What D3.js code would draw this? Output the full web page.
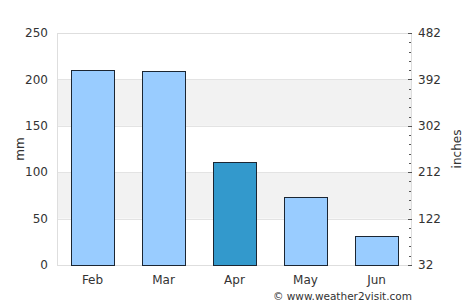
<!DOCTYPE html>
<html>
<head>
<meta charset="utf-8">
<script src="https://cdn.jsdelivr.net/npm/d3@7"></script>
<style>
  body { margin: 0; background: #fff; }
  text { font-family: "DejaVu Sans", sans-serif; fill: #333; }
</style>
</head>
<body>
<div id="chart"></div>
<script>
const months = ["Feb", "Mar", "Apr", "May", "Jun"];
const rainfall = [210, 209, 111, 73, 31];
const highlight = "Apr";
const mmTicks = [0, 50, 100, 150, 200, 250];
const rightLabels = [32, 122, 212, 302, 392, 482];

const width = 474, height = 308;
const margin = { top: 33, right: 62, bottom: 43, left: 57 };
const iw = width - margin.left - margin.right;
const ih = height - margin.top - margin.bottom;

const svg = d3.select("#chart").append("svg")
  .attr("width", width)
  .attr("height", height);

const g = svg.append("g").attr("transform", `translate(${margin.left},${margin.top})`);

const x = d3.scaleBand().domain(months).range([0, iw]).paddingInner(0.39).paddingOuter(0.195);
const y = d3.scaleLinear().domain([0, 250]).range([ih, 0]);

// alternating bands
for (let i = 0; i < mmTicks.length - 1; i++) {
  if (i % 2 === 1) {
    g.append("rect")
      .attr("x", 0).attr("width", iw)
      .attr("y", y(mmTicks[i + 1])).attr("height", y(mmTicks[i]) - y(mmTicks[i + 1]))
      .attr("fill", "#f2f2f2");
  }
}

// gridlines
g.selectAll(".grid").data(mmTicks).join("line")
  .attr("x1", 0).attr("x2", iw)
  .attr("y1", d => Math.round(y(d)) + 0.5).attr("y2", d => Math.round(y(d)) + 0.5)
  .attr("stroke", "#e3e3e3");

g.append("rect")
  .attr("x", 0.5).attr("y", 0.5).attr("width", iw - 1).attr("height", ih)
  .attr("fill", "none").attr("stroke", "#dedede");

// bars
g.selectAll(".bar").data(months).join("rect")
  .attr("x", d => Math.round(x(d)) + 0.5)
  .attr("y", (d, i) => Math.round(y(rainfall[i])) + 0.5)
  .attr("width", Math.round(x.bandwidth()))
  .attr("height", (d, i) => ih - Math.round(y(rainfall[i])))
  .attr("fill", d => d === highlight ? "#3399cc" : "#99ccff")
  .attr("stroke", "#1b2633")
  .attr("stroke-width", 1);

// left axis labels
g.selectAll(".ly").data(mmTicks).join("text")
  .attr("x", -9).attr("y", d => y(d))
  .attr("dy", "0.35em")
  .attr("text-anchor", "end")
  .attr("font-size", 12)
  .text(d => d);

// month labels
g.selectAll(".mx").data(months).join("text")
  .attr("x", d => x(d) + x.bandwidth() / 2)
  .attr("y", ih + 19)
  .attr("text-anchor", "middle")
  .attr("font-size", 12)
  .text(d => d);

// right axis
const yr = d3.scaleLinear().domain([32, 482]).range([ih, 0]);
const minor = d3.range(32, 483, 18);
g.selectAll(".minor").data(minor).join("line")
  .attr("x1", iw - 3).attr("x2", iw - 1)
  .attr("y1", d => Math.round(yr(d)) + 0.5).attr("y2", d => Math.round(yr(d)) + 0.5)
  .attr("stroke", "#555");
g.selectAll(".major").data(rightLabels).join("line")
  .attr("x1", iw - 4).attr("x2", iw)
  .attr("y1", d => Math.round(yr(d)) + 0.5).attr("y2", d => Math.round(yr(d)) + 0.5)
  .attr("stroke", "#555");
g.selectAll(".ry").data(rightLabels).join("text")
  .attr("x", iw + 6).attr("y", d => yr(d))
  .attr("dy", "0.35em")
  .attr("font-size", 12)
  .text(d => d);

// axis titles
svg.append("text")
  .attr("transform", `translate(24,${margin.top + ih / 2}) rotate(-90)`)
  .attr("text-anchor", "middle")
  .attr("font-size", 12)
  .text("mm");
svg.append("text")
  .attr("transform", `translate(461,${margin.top + ih / 2}) rotate(-90)`)
  .attr("text-anchor", "middle")
  .attr("font-size", 12)
  .text("inches");

svg.append("text")
  .attr("x", margin.left + iw).attr("y", 300)
  .attr("text-anchor", "end")
  .attr("font-size", 10.5)
  .text("© www.weather2visit.com");
</script>
</body>
</html>
